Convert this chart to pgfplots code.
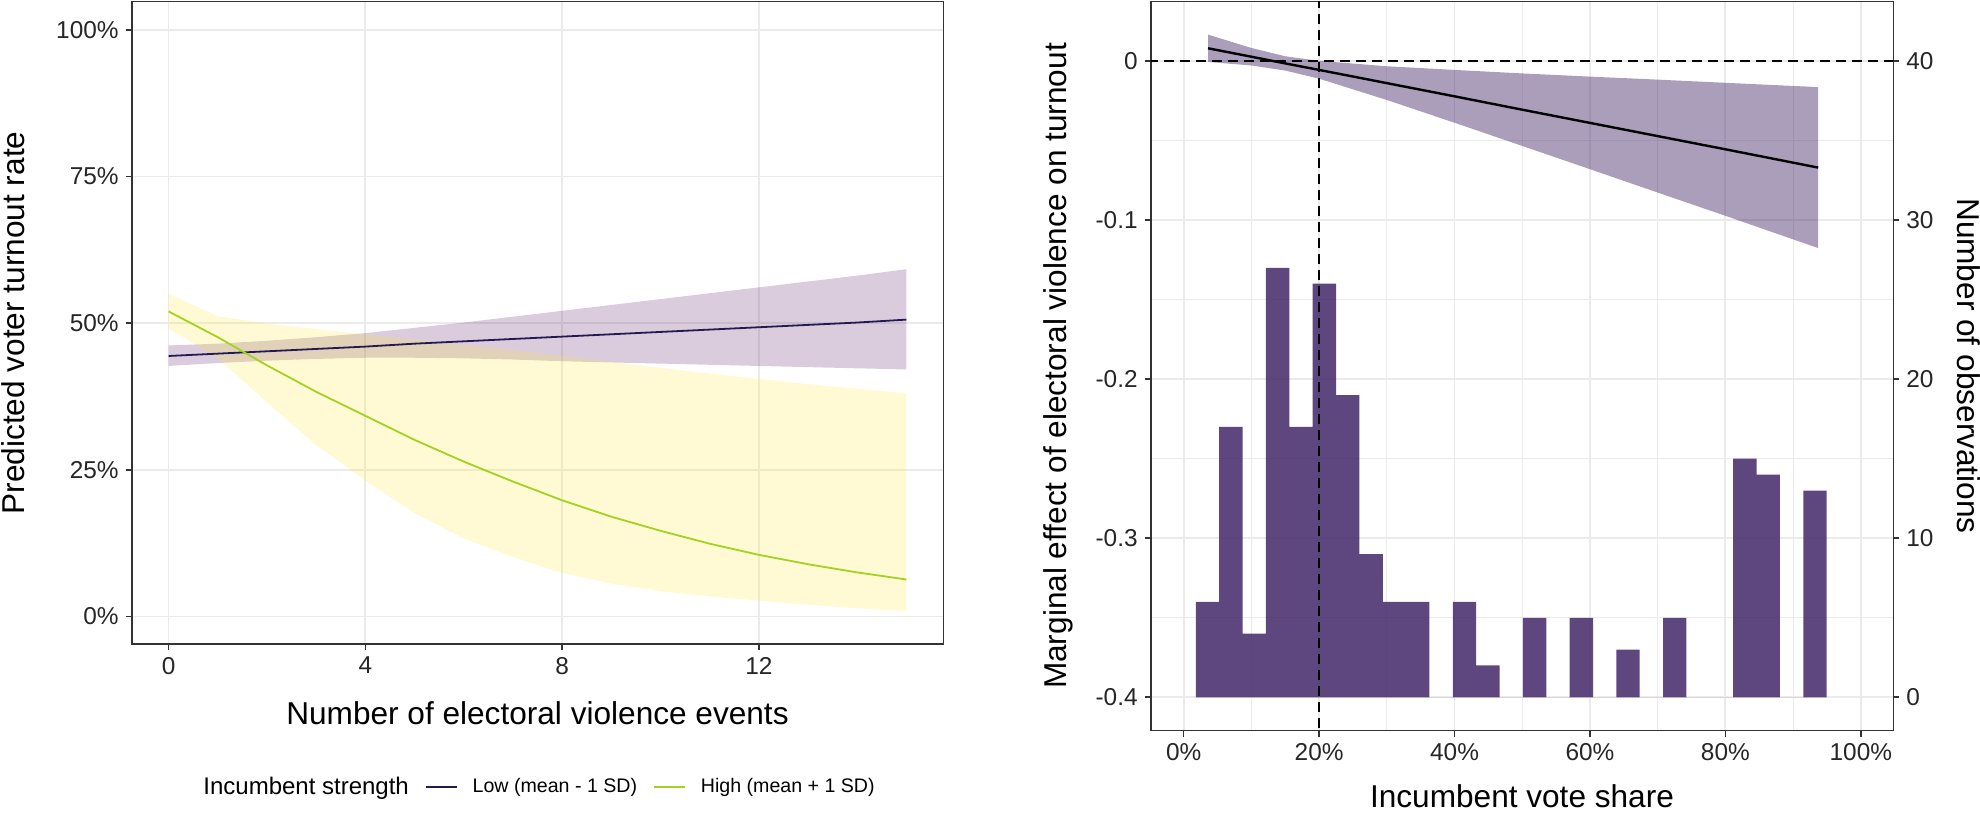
\documentclass[border=0pt]{standalone}
\usepackage{fontspec}
\setmainfont{Liberation Sans}
\usepackage{pgfplots}
\pgfplotsset{compat=1.18}
\usepackage{pgfplotstable}
\definecolor{lowline}{HTML}{231A52}
\definecolor{highline}{HTML}{A0D420}
\definecolor{vpurple}{HTML}{440154}
\definecolor{vyellow}{HTML}{FDE725}
\definecolor{histcol}{HTML}{422769}
\definecolor{gridc}{HTML}{EBEBEB}
\definecolor{framec}{HTML}{333333}
\definecolor{tickc}{HTML}{262626}

% fitted lines (percent)
\pgfplotstableread{
x lowfit highfit
0 44.4 52.0
1 44.8 47.6
2 45.2 42.8
3 45.6 38.3
4 46.0 34.2
5 46.5 30.1
6 46.9 26.4
7 47.3 23.0
8 47.7 19.8
9 48.1 17.0
10 48.5 14.6
11 48.9 12.4
12 49.3 10.5
13 49.7 8.9
14 50.1 7.5
15 50.6 6.3
}\leftfit

% confidence band, low incumbent strength (upper edge, then lower edge back)
\pgfplotstableread{
x y
0 46.2
1 46.5
2 47.0
3 47.6
4 48.3
5 49.2
6 50.1
7 51.1
8 52.1
9 53.1
10 54.1
11 55.1
12 56.1
13 57.1
14 58.1
15 59.2
15 42.1
14 42.3
13 42.5
12 42.7
11 42.9
10 43.1
9 43.3
8 43.5
7 43.8
6 44.0
5 44.1
4 44.1
3 43.9
2 43.6
1 43.2
0 42.7
}\lowband

% confidence band, high incumbent strength
\pgfplotstableread{
x y
0 55.0
1 51.2
2 49.9
3 49.0
4 48.1
5 47.2
6 46.3
7 45.4
8 44.4
9 43.4
10 42.4
11 41.4
12 40.5
13 39.6
14 38.8
15 38.0
15 0.9
14 1.4
13 2.0
12 2.7
11 3.4
10 4.3
9 5.6
8 7.4
7 10.1
6 13.3
5 17.6
4 23.2
3 29.2
2 36.5
1 44.0
0 49.1
}\highband

% marginal effect line
\pgfplotstableread{
x fit
3.6 0.0080
10 0.0027
15 -0.0015
20 -0.0056
30 -0.0139
40 -0.0222
50 -0.0306
60 -0.0389
70 -0.0472
80 -0.0555
93.7 -0.0670
}\rightfit

% marginal effect band (upper edge, then lower edge back)
\pgfplotstableread{
x y
3.6 0.0166
10 0.0082
15 0.0030
20 0.0001
30 -0.0033
40 -0.0056
50 -0.0078
60 -0.0098
70 -0.0117
80 -0.0137
93.7 -0.0164
93.7 -0.1176
80 -0.0973
70 -0.0827
60 -0.0680
50 -0.0534
40 -0.0388
30 -0.0245
20 -0.0111
15 -0.0060
10 -0.0028
3.6 -0.0006
}\rightband

% histogram: bin left edges and counts
\pgfplotstableread{
x n
1.80 6
5.25 17
8.70 4
12.15 27
15.60 17
19.05 26
22.50 19
25.95 9
29.40 6
32.85 6
36.30 0
39.75 6
43.20 2
46.65 0
50.10 5
53.55 0
57.00 5
60.45 0
63.90 3
67.35 0
70.80 5
74.25 0
77.70 0
81.15 15
84.60 14
88.05 0
91.50 13
94.95 0
}\histdata

\pgfplotsset{
  ggbase/.style={
    scale only axis,
    anchor=south west,
    axis line style={framec, line width=0.8pt},
    tick style={framec, line width=0.8pt},
    tick align=outside,
    major tick length=3pt,
    minor tick length=0pt,
    ticklabel style={font=\fontsize{12.2}{14}\selectfont, text=tickc},
    major grid style={gridc, line width=0.9pt},
    minor grid style={gridc, line width=0.55pt},
    clip=true,
  },
}

\begin{document}
\begin{tikzpicture}
\useasboundingbox (0,0) rectangle (990pt,406.5pt);

% ---------------- left panel ----------------
\begin{axis}[ggbase,
  at={(65.85pt,84.5pt)},
  width=405.8pt, height=321.15pt,
  xmin=-0.75, xmax=15.75, ymin=-4.7, ymax=104.8,
  xtick={0,4,8,12}, xticklabels={0,4,8,12},
  ytick={0,25,50,75,100}, yticklabels={0\%,25\%,50\%,75\%,100\%},
  xtick pos=left, ytick pos=left,
  grid=major,
  legend columns=-1,
  legend style={at={(0.0694,-0.2231)}, anchor=west, draw=none, fill=none,
    inner sep=0pt,
    font=\fontsize{9.8}{11}\selectfont,
    nodes={inner xsep=0pt, inner ysep=1pt},
    /tikz/every odd column/.append style={column sep=7.5pt},
    /tikz/every even column/.append style={column sep=8pt}},
  legend image code/.code={\draw[#1] (0pt,0pt) -- (15.5pt,0pt);},
]
\addplot[fill=vpurple, fill opacity=0.2, draw=none, forget plot] table[x=x, y=y] {\lowband};
\addplot[fill=vyellow, fill opacity=0.2, draw=none, forget plot] table[x=x, y=y] {\highband};
\addplot[lowline, line width=0.9pt, forget plot] table[x=x, y=lowfit] {\leftfit};
\addplot[highline, line width=0.9pt, forget plot] table[x=x, y=highfit] {\leftfit};
\addlegendimage{empty legend}
\addlegendentry{\fontsize{12}{14}\selectfont Incumbent strength}
\addlegendimage{lowline, line width=0.9pt}
\addlegendentry{Low (mean - 1 SD)}
\addlegendimage{highline, line width=0.9pt}
\addlegendentry{High (mean + 1 SD)}
\end{axis}

% ---------------- right panel: effect ----------------
\begin{axis}[ggbase,
  at={(575.35pt,41.15pt)},
  width=371.3pt, height=364.5pt,
  xmin=-4.87, xmax=104.8, ymin=-0.421, ymax=0.0373,
  xtick={0,20,40,60,80,100}, xticklabels={0\%,20\%,40\%,60\%,80\%,100\%},
  minor xtick={10,30,50,70,90},
  ytick={-0.4,-0.3,-0.2,-0.1,0}, yticklabels={-0.4,-0.3,-0.2,-0.1,0},
  minor ytick={-0.35,-0.25,-0.15,-0.05},
  xtick pos=left, ytick pos=left,
  grid=both,
]
\addplot[fill=histcol, fill opacity=0.45, draw=none] table[x=x, y=y] {\rightband};
\addplot[black, line width=1.2pt] table[x=x, y=fit] {\rightfit};
\end{axis}

% ---------------- right panel: histogram (count axis) ----------------
\begin{axis}[ggbase,
  at={(575.35pt,41.15pt)},
  width=371.3pt, height=364.5pt,
  xmin=-4.87, xmax=104.8, ymin=-2.1, ymax=43.73,
  xtick=\empty,
  ytick={0,10,20,30,40}, yticklabels={0,10,20,30,40},
  ytick pos=right,
]
\addplot[ybar interval, fill=histcol, fill opacity=0.85, draw=none] table[x=x, y=n] {\histdata};
\addplot[black, line width=1pt, dash pattern=on 5pt off 3pt] coordinates {(20,-10) (20,60)};
\addplot[black, line width=1pt, dash pattern=on 5pt off 3pt] coordinates {(-10,40) (120,40)};
\end{axis}

% ---------------- axis titles ----------------
\node[anchor=base, rotate=90, font=\fontsize{15.8}{18}\selectfont] at (12.5pt,245pt) {Predicted voter turnout rate};
\node[anchor=base, font=\fontsize{15.8}{18}\selectfont] at (268.75pt,44pt) {Number of electoral violence events};
\node[anchor=base, rotate=90, font=\fontsize{15.8}{18}\selectfont] at (533pt,223.5pt) {Marginal effect of electoral violence on turnout};
\node[anchor=base, rotate=-90, font=\fontsize{15.8}{18}\selectfont] at (978.5pt,223.5pt) {Number of observations};
\node[anchor=base, font=\fontsize{15.8}{18}\selectfont] at (761pt,2.5pt) {Incumbent vote share};
\end{tikzpicture}
\end{document}
